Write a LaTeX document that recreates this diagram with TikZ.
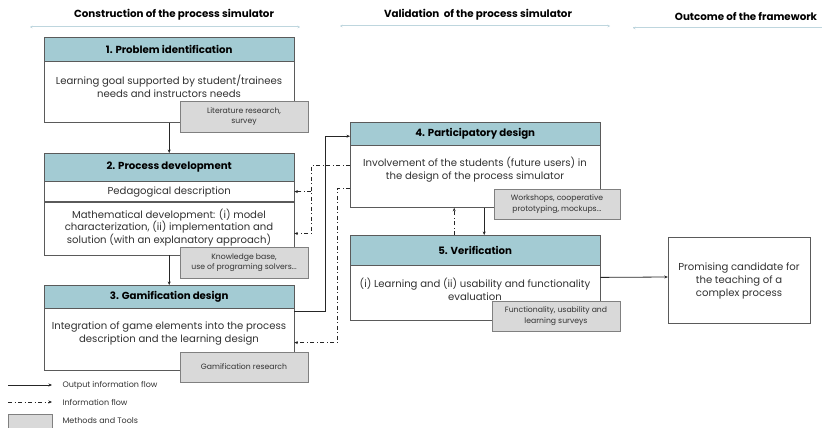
\documentclass[tikz,border=0pt]{standalone}
\usepackage{fontspec}
\setmainfont{Poppins}
\usepackage{tikz}
\usetikzlibrary{arrows.meta}

\definecolor{bandteal}{RGB}{163,203,211}
\definecolor{boxline}{RGB}{90,90,90}
\definecolor{toolfill}{RGB}{217,217,217}
\definecolor{toolline}{RGB}{128,128,128}
\definecolor{headline}{RGB}{190,214,222}
\definecolor{bodytext}{RGB}{50,50,50}

\begin{document}
\begin{tikzpicture}[x=1pt,y=-1pt,
  stagetitle/.style={draw=boxline,fill=bandteal,minimum width=250pt,minimum height=#1,inner sep=0pt,anchor=north west,font=\fontsize{10.2}{12}\selectfont\bfseries},
  stagebody/.style={draw=boxline,fill=white,minimum width=250pt,minimum height=#1,inner sep=0pt,anchor=north},
  stagetext/.style={align=center,text=bodytext,inner sep=0pt,font=\fontsize{10.1}{12.6}\selectfont},
  toolbox/.style={draw=toolline,fill=toolfill,minimum width=128pt,minimum height=31pt,inner sep=0pt,align=center,text=bodytext,font=\fontsize{7.7}{10.5}\selectfont},
  header/.style={font=\fontsize{10.3}{12}\selectfont\bfseries},
  keytext/.style={anchor=west,text=bodytext,font=\fontsize{8}{9}\selectfont},
  flow/.style={-{Stealth[length=3.5pt,width=3pt]},line width=0.8pt,black!85},
  info/.style={-{Stealth[length=3.5pt,width=3pt]},line width=0.8pt,black!85,dash pattern=on 4pt off 2.5pt on 1pt off 2.5pt},
  span/.style={line width=1pt,headline,{Stealth[length=2.5pt,width=2.5pt]}-{Stealth[length=2.5pt,width=2.5pt]}}]
  \useasboundingbox (0,0) rectangle (822,428);

  % column headers
  \node[header] (head1) at (174,15) {Construction of the process simulator};
  \node[header] (head2) at (478,15) {Validation\ \ of the process simulator};
  \node[header] (head3) at (746,17) {Outcome of the framework};
  \draw[span] (30,27) -- (300,27);
  \draw[span] (340,26) -- (610,26);
  \draw[span,-] (633,28) -- (822,28);
  \draw[headline,line width=1pt,{Stealth[length=2.5pt,width=2.5pt]}-] (633,28) -- (640,28);

  % 1. problem identification
  \node[stagetitle=24pt] (title1) at (44,37) {1. Problem identification};
  \node[stagebody=61pt] (body1) at (title1.south) {};
  \node[stagetext] (text1) at (169,86) {Learning goal supported by student/trainees\\needs and instructors needs};
  \node[toolbox] (tool1) at (244,116.5) {Literature research,\\survey};

  % 2. process development
  \node[stagetitle=28pt] (title2) at (44,153) {2. Process development};
  \node[stagebody=20pt,stagetext] (ped2) at (title2.south) {Pedagogical description};
  \node[stagebody=53pt] (math2) at (ped2.south) {};
  \node[stagetext] (text2) at (169,227.5) {Mathematical development: (i) model\\characterization, (ii) implementation and\\solution (with an explanatory approach)};
  \node[toolbox] (tool2) at (244,262.5) {Knowledge base,\\use of programing solvers...};

  % 3. gamification design
  \node[stagetitle=23pt] (title3) at (44,285) {3. Gamification design};
  \node[stagebody=62pt] (body3) at (title3.south) {};
  \node[stagetext] (text3) at (169,333.5) {Integration of game elements into the process\\description and the learning design};
  \node[toolbox,minimum height=30pt] (tool3) at (244,367) {Gamification research};

  % 4. participatory design
  \node[stagetitle=23pt] (title4) at (350,122) {4. Participatory design};
  \node[stagebody=62pt] (body4) at (title4.south) {};
  \node[stagetext] (text4) at (475,169.5) {Involvement of the students (future users) in\\the design of the process simulator};
  \node[toolbox,minimum width=126pt,minimum height=30pt] (tool4) at (557,204) {Workshops, cooperative\\prototyping, mockups...};

  % 5. verification
  \node[stagetitle=30pt] (title5) at (350,235) {5. Verification};
  \node[stagebody=55pt] (body5) at (title5.south) {};
  \node[stagetext] (text5) at (475,289.5) {(i) Learning and (ii) usability and functionality\\evaluation};
  \node[toolbox,minimum height=30pt] (tool5) at (556,316) {Functionality, usability and\\learning surveys};

  % outcome
  \node[draw=boxline,minimum width=142pt,minimum height=86pt,inner sep=0pt] (outcome) at (739,280) {};
  \node[stagetext,font=\fontsize{10.1}{13}\selectfont] (text6) at (739,281) {Promising candidate for\\the teaching of a\\complex process};

  % output information flow
  \draw[flow] (body1.south) -- (title2.north);
  \draw[flow] (math2.south) -- (title3.north);
  \draw[flow] ([yshift=-3pt]body3.north east) -- ++(31,0) |- ([yshift=-2.5pt]title4.west);
  \draw[flow] ([xshift=9pt]body4.south) -- ([xshift=9pt]title5.north);
  \draw[flow] ([yshift=-12pt]body5.north east) -- ([yshift=3pt]outcome.west);

  % information flow
  \coordinate (fork) at ([xshift=17pt,yshift=-5pt]math2.east);
  \draw[info] ([yshift=-20pt]body4.north west) -| (fork) -- ([yshift=-5pt]math2.east);
  \draw[info] (ped2.east -| fork) -- (ped2.east);
  \draw[info] ([yshift=-43pt]body4.north west) -| ([xshift=43pt,yshift=-3pt]body3.east) -- ([yshift=-3pt]body3.east);
  \draw[info] ([xshift=-21pt]title5.north) -- ([xshift=-21pt]body4.south);

  % legend
  \draw[flow] (8,385) -- (52,385);
  \node[keytext] (key1) at (59,385) {Output information flow};
  \draw[info] (8,402) -- (52,402);
  \node[keytext] (key2) at (59,402) {Information flow};
  \node[toolbox,minimum width=44pt,minimum height=16pt,anchor=north west] (key3) at (8,414) {};
  \node[keytext] (key3text) at (59,421) {Methods and Tools};
\end{tikzpicture}
\end{document}
